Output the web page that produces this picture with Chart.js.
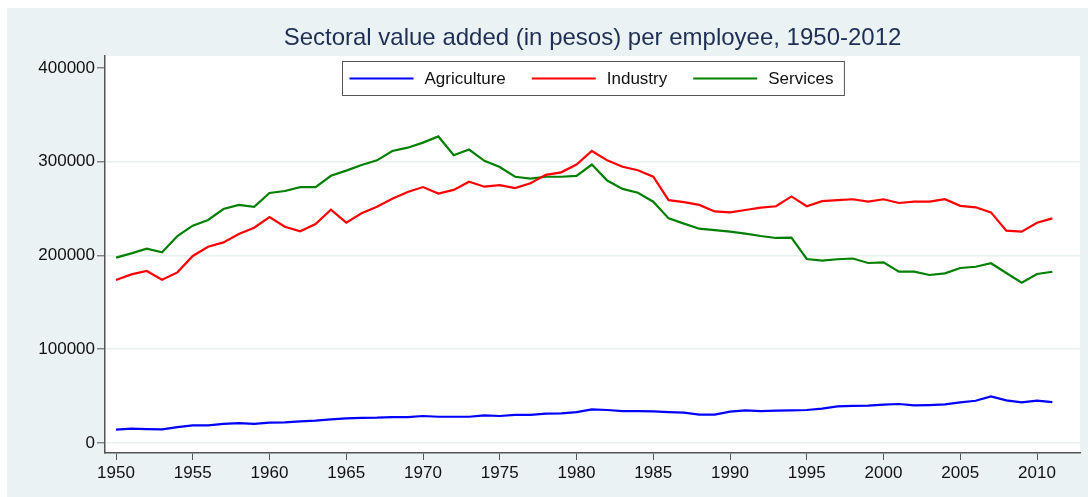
<!DOCTYPE html>
<html>
<head>
<meta charset="utf-8">
<script src="https://cdn.jsdelivr.net/npm/chart.js@4.4.1/dist/chart.umd.min.js"></script>
<style>
    html, body { margin: 0; padding: 0; background: #ffffff; }
    #wrap { position: absolute; left: 7px; top: 8px; width: 1081px; height: 489px; }
</style>
</head>
<body>
<div id="wrap"><canvas id="lineChart"></canvas></div>
<script>
// Years on the x axis
const years = [1950, 1951, 1952, 1953, 1954, 1955, 1956, 1957, 1958, 1959,
    1960, 1961, 1962, 1963, 1964, 1965, 1966, 1967, 1968, 1969,
    1970, 1971, 1972, 1973, 1974, 1975, 1976, 1977, 1978, 1979,
    1980, 1981, 1982, 1983, 1984, 1985, 1986, 1987, 1988, 1989,
    1990, 1991, 1992, 1993, 1994, 1995, 1996, 1997, 1998, 1999,
    2000, 2001, 2002, 2003, 2004, 2005, 2006, 2007, 2008, 2009,
    2010, 2011];

// Value added per employee (pesos)
const agriculture = [14200, 15300, 14900, 14500, 17000, 18800, 18800, 20300, 21300, 20300,
    21700, 22000, 23000, 23800, 25200, 26300, 26700, 27000, 27700, 27700,
    28800, 28000, 28000, 28000, 29400, 28800, 29900, 29900, 31300, 31600,
    33000, 35900, 35200, 34100, 34100, 33700, 33000, 32300, 30200, 30200,
    33400, 34800, 34100, 34500, 34800, 35200, 36600, 39000, 39500, 39800,
    40900, 41600, 40100, 40500, 41200, 43300, 45100, 49700, 45400, 43300,
    45100, 43700];

const industry = [173900, 179900, 183500, 174200, 182000, 199500, 209400, 214000, 223000, 229700,
    241000, 230700, 225800, 233600, 248900, 235000, 245000, 252000, 260600, 267700,
    273000, 266000, 270000, 278700, 273400, 275000, 272000, 277000, 286000, 288700,
    297000, 311500, 301500, 294700, 291000, 284000, 259000, 257000, 254000, 247000,
    246000, 248500, 251000, 252500, 263000, 252500, 258000, 259000, 260000, 257400,
    260000, 256000, 257400, 257400, 260000, 253000, 251400, 246000, 226500, 225400,
    235000, 239600];

const services = [197700, 202300, 207300, 203400, 220800, 231800, 237900, 249600, 253900, 252000,
    266700, 268800, 273000, 273000, 285000, 290500, 296500, 301500, 311500, 315000,
    320400, 327000, 307000, 313000, 301000, 294400, 284000, 282000, 284000, 284000,
    285000, 297000, 280000, 271000, 267000, 257400, 239600, 234000, 228600, 227000,
    225400, 223300, 220800, 218700, 219000, 196300, 194500, 196000, 196800, 192000,
    192700, 182700, 182700, 179200, 181000, 186700, 188000, 191700, 181300, 171000,
    180300, 182700];

const xTicks = [1950, 1955, 1960, 1965, 1970, 1975, 1980, 1985, 1990, 1995, 2000, 2005, 2010];
const yTicks = [0, 100000, 200000, 300000, 400000];

const FONT = 'Liberation Sans, Arial, Helvetica, sans-serif';

function toPoints(values) {
    return values.map((v, i) => ({ x: years[i], y: v }));
}

// Background: bluish-gray outer region, white plot region
const backgroundPlugin = {
    id: 'stataBackground',
    beforeDraw(chart) {
        const { ctx, chartArea } = chart;
        ctx.save();
        ctx.fillStyle = '#EAF2F3';
        ctx.fillRect(0, 0, chart.width, chart.height);
        ctx.fillStyle = '#FFFFFF';
        ctx.fillRect(chartArea.left, chartArea.top, chartArea.right - chartArea.left, chartArea.bottom - chartArea.top);
        ctx.restore();
    }
};

// Boxed legend in one row, inside the plot region
const boxLegendPlugin = {
    id: 'boxLegend',
    afterDraw(chart) {
        const { ctx, chartArea } = chart;
        const sets = chart.data.datasets;
        ctx.save();
        ctx.font = '17px ' + FONT;
        const lineLen = 64, gapText = 11, gapItem = 26, padL = 7, padR = 11;
        let total = padL + padR;
        const widths = sets.map(ds => ctx.measureText(ds.label).width);
        widths.forEach((w, i) => {
            total += lineLen + gapText + w;
            if (i < widths.length - 1) total += gapItem;
        });
        const cx = (chartArea.left + chartArea.right) / 2;
        const left = Math.round(cx - total / 2) + 0.5;
        const top = chartArea.top + 5.5;
        const h = 34;
        ctx.fillStyle = '#FFFFFF';
        ctx.fillRect(left, top, total, h);
        ctx.strokeStyle = '#555555';
        ctx.lineWidth = 1;
        ctx.strokeRect(left, top, total, h);
        const midY = top + h / 2;
        let x = left + padL;
        sets.forEach((ds, i) => {
            ctx.strokeStyle = ds.borderColor;
            ctx.lineWidth = 2.2;
            ctx.beginPath();
            ctx.moveTo(x, midY);
            ctx.lineTo(x + lineLen, midY);
            ctx.stroke();
            x += lineLen + gapText;
            ctx.fillStyle = '#111111';
            ctx.textBaseline = 'middle';
            ctx.textAlign = 'left';
            ctx.fillText(ds.label, x, midY + 1);
            x += widths[i] + gapItem;
        });
        ctx.restore();
    }
};

const lineCtx = document.getElementById('lineChart').getContext('2d');
const lineChart = new Chart(lineCtx, {
    type: 'line',
    data: {
        datasets: [{
            label: 'Agriculture',
            data: toPoints(agriculture),
            borderColor: '#0000FF',
            borderWidth: 2.2,
            pointRadius: 0,
            tension: 0
        }, {
            label: 'Industry',
            data: toPoints(industry),
            borderColor: '#FF0000',
            borderWidth: 2.2,
            pointRadius: 0,
            tension: 0
        }, {
            label: 'Services',
            data: toPoints(services),
            borderColor: '#008000',
            borderWidth: 2.2,
            pointRadius: 0,
            tension: 0
        }]
    },
    options: {
        responsive: true,
        maintainAspectRatio: false,
        animation: false,
        layout: {
            padding: { top: 0, right: 8, bottom: 0, left: 0 }
        },
        plugins: {
            legend: { display: false },
            tooltip: { enabled: false },
            title: {
                display: true,
                fullSize: false,
                text: 'Sectoral value added (in pesos) per employee, 1950-2012',
                color: '#1E2E55',
                font: { family: FONT, size: 24, weight: 'normal', lineHeight: 1.2 },
                padding: { top: 15.6, bottom: 3.6 }
            }
        },
        scales: {
            x: {
                type: 'linear',
                min: 1949.283,
                max: 2012.80,
                afterBuildTicks: function(scale) {
                    scale.ticks = xTicks.map(v => ({ value: v }));
                },
                afterFit: function(scale) {
                    scale.height = 44;
                },
                ticks: {
                    autoSkip: false,
                    maxRotation: 0,
                    padding: 3,
                    color: '#111111',
                    font: { family: FONT, size: 17 },
                    callback: function(value) { return String(value); }
                },
                grid: {
                    drawOnChartArea: false,
                    tickLength: 7,
                    tickColor: '#555555',
                    tickWidth: 1
                },
                border: { display: true, color: '#555555', width: 1.5 }
            },
            y: {
                min: -10667,
                max: 412800,
                afterBuildTicks: function(scale) {
                    scale.ticks = yTicks.map(v => ({ value: v }));
                },
                afterFit: function(scale) {
                    scale.width = 98;
                },
                ticks: {
                    padding: 2,
                    color: '#111111',
                    font: { family: FONT, size: 17 },
                    callback: function(value) { return String(value); }
                },
                grid: {
                    color: function(context) {
                        return context.tick && context.tick.value === 400000 ? 'rgba(0,0,0,0)' : '#E9F0F2';
                    },
                    lineWidth: 1.6,
                    tickLength: 8,
                    tickColor: '#555555',
                    tickWidth: 1
                },
                border: { display: true, color: '#555555', width: 1.5 }
            }
        }
    },
    plugins: [backgroundPlugin, boxLegendPlugin]
});
</script>
</body>
</html>
